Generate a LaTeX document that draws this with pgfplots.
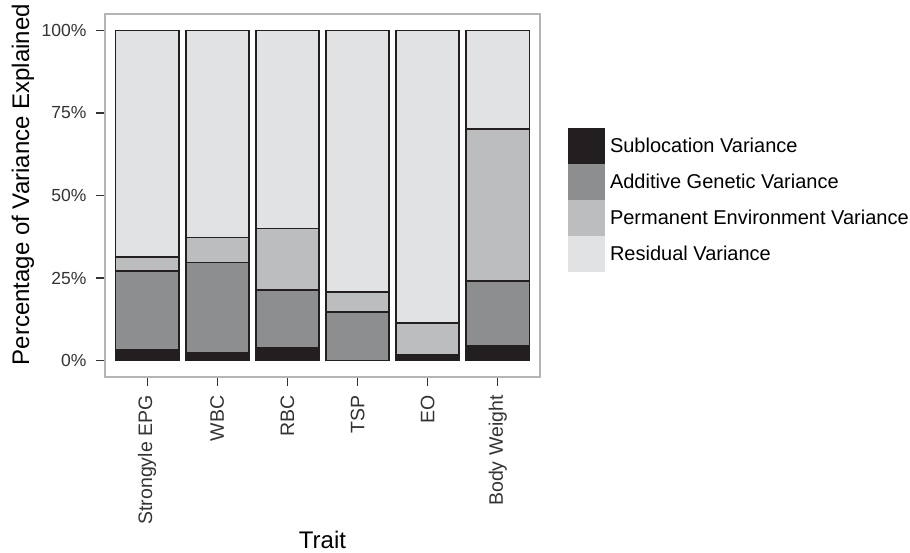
\documentclass[border=0pt]{standalone}
\usepackage{pgfplots}
\pgfplotsset{compat=1.18}
\usepackage{fontspec}
\setmainfont{Liberation Sans}

\definecolor{subloc}{HTML}{231F20}
\definecolor{additive}{HTML}{8D8E90}
\definecolor{permenv}{HTML}{BCBDBF}
\definecolor{residual}{HTML}{E1E2E4}
\definecolor{barline}{HTML}{231F20}
\definecolor{framegray}{HTML}{B5B5B5}
\definecolor{tickgray}{HTML}{333333}

\begin{document}
\begin{tikzpicture}
\path[use as bounding box] (0,0) rectangle (910pt,553pt);
\begin{axis}[
    at={(105pt,176pt)}, anchor=south west,
    scale only axis, width=435pt, height=363pt,
    ybar stacked, bar width=0.9,
    xmin=-0.6, xmax=5.6, ymin=-5, ymax=105,
    xtick={0,1,2,3,4,5},
    xticklabels={Strongyle EPG,WBC,RBC,TSP,EO,Body Weight},
    ytick={0,25,50,75,100},
    yticklabels={0\%,25\%,50\%,75\%,100\%},
    xtick pos=lower, ytick pos=left,
    tick align=outside, major tick length=9pt,
    tick style={color=tickgray, line width=1.1pt},
    axis line style={color=framegray, line width=1.2pt},
    /pgf/number format/assume math mode=true,
    xticklabel shift=6pt,
    x tick label style={rotate=90, anchor=east, font=\fontsize{19.5}{23}\selectfont, text=tickgray},
    y tick label style={font=\fontsize{17.5}{21}\selectfont, text=tickgray, xshift=-6pt},
    xlabel={Trait},
    ylabel={Percentage of Variance Explained},
    label style={font=\fontsize{24}{28}\selectfont},
    xlabel style={at={(rel axis cs:0.5,-0.448)}, anchor=center},
    ylabel style={at={(rel axis cs:-0.1885,0.530)}, anchor=center},
    every axis plot/.append style={draw=barline, line width=1.8pt},
    legend cell align=left,
    legend style={at={(rel axis cs:1.064,0.686)}, anchor=north west,
        draw=none, fill=none, inner sep=0pt, row sep=0pt, column sep=5pt,
        nodes={inner sep=0pt, anchor=west, font=\fontsize{20}{24}\selectfont, text=black}},
    legend image code/.code={\fill[#1, draw=none] (0pt,-18pt) rectangle (37pt,18pt);},
]
% Sublocation
\addplot[fill=subloc] coordinates {(0,3.3) (1,2.2) (2,3.8) (3,0) (4,1.7) (5,4.4)};
% Additive genetic
\addplot[fill=additive] coordinates {(0,23.8) (1,27.5) (2,17.5) (3,14.6) (4,0) (5,19.6)};
% Permanent environment
\addplot[fill=permenv] coordinates {(0,4.3) (1,7.6) (2,18.7) (3,6.2) (4,9.7) (5,46.1)};
% Residual
\addplot[fill=residual] coordinates {(0,68.6) (1,62.7) (2,60.0) (3,79.2) (4,88.6) (5,29.9)};
\legend{Sublocation Variance,Additive Genetic Variance,Permanent Environment Variance,Residual Variance}
\end{axis}
\end{tikzpicture}
\end{document}
